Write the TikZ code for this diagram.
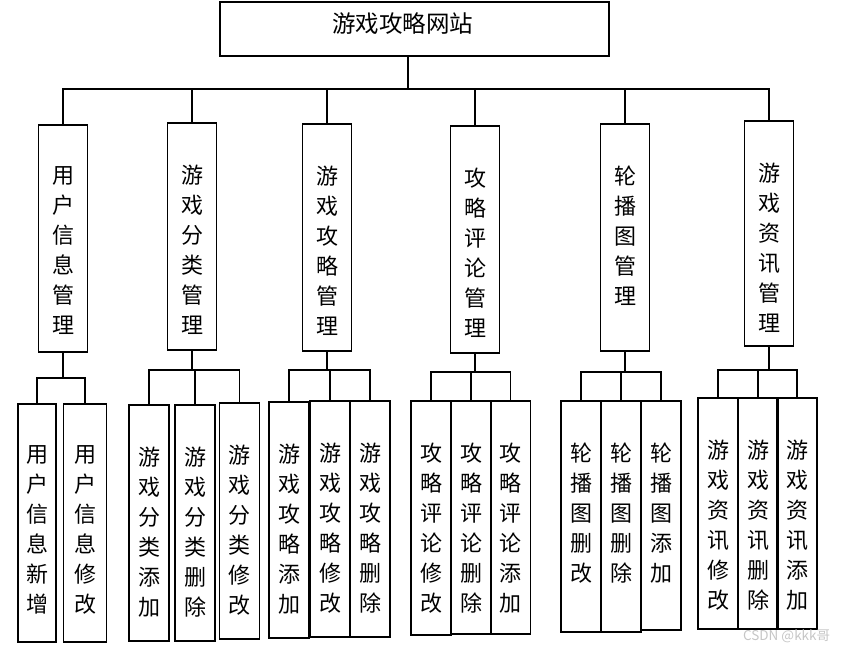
\documentclass[tikz,border=0pt]{standalone}
\usepackage{fontspec}
\newfontfamily\cjk{Noto Sans CJK SC}
\usetikzlibrary{positioning}

\begin{document}
\begin{tikzpicture}[
  x=1pt, y=-1pt,
  line width=1.8pt,
  root/.style={
    rectangle, draw, minimum width=389pt, minimum height=54pt,
    inner sep=0pt
  },
  rtext/.style={
    xshift=-12pt, yshift=5pt, inner sep=0pt,
    font=\cjk\fontsize{23.5}{23.5}\selectfont
  },
  mod/.style={
    rectangle, draw, anchor=north,
    minimum width=49pt, minimum height=227pt
  },
  sub/.style={
    rectangle, draw, anchor=north,
    minimum width=40pt, minimum height=236pt
  },
  vtext/.style={
    anchor=north, yshift=-42pt, inner sep=0pt, align=center,
    font=\cjk\fontsize{22}{30}\selectfont
  }
]
\useasboundingbox (0,0) rectangle (843,652);

\node[root, label={[rtext]center:游戏攻略网站}] (top) at (414.5,29) {};

% second level
\node[mod, label={[vtext]north:用\\户\\信\\息\\管\\理}] (m1) at (63,124) {};
\node[mod, label={[vtext]north:游\\戏\\分\\类\\管\\理}] (m2) at (192,122) {};
\node[mod, label={[vtext]north:游\\戏\\攻\\略\\管\\理}] (m3) at (327,123) {};
\node[mod, label={[vtext]north:攻\\略\\评\\论\\管\\理}] (m4) at (475,125) {};
\node[mod, label={[vtext]north:轮\\播\\图\\管\\理}] (m5) at (625,123) {};
\node[mod, minimum height=225pt, label={[vtext]north:游\\戏\\资\\讯\\管\\理}] (m6) at (769,120) {};

% third level
\node[sub, minimum width=38pt, minimum height=238pt, label={[vtext]north:用\\户\\信\\息\\新\\增}] (m1a) at (37,403) {};
\node[sub, minimum width=43pt, minimum height=238pt, label={[vtext]north:用\\户\\信\\息\\修\\改}] (m1b) at (85,403) {};

\node[sub, label={[vtext]north:游\\戏\\分\\类\\添\\加}] (m2a) at (149,404) {};
\node[sub, label={[vtext]north:游\\戏\\分\\类\\删\\除}] (m2b) at (195,404) {};
\node[sub, label={[vtext]north:游\\戏\\分\\类\\修\\改}] (m2c) at (239.5,402) {};

\node[sub, label={[vtext]north:游\\戏\\攻\\略\\添\\加}] (m3a) at (289,401) {};
\node[sub, label={[vtext]north:游\\戏\\攻\\略\\修\\改}] (m3b) at (330,400) {};
\node[sub, label={[vtext]north:游\\戏\\攻\\略\\删\\除}] (m3c) at (370,400) {};

\node[sub, minimum height=234pt, label={[vtext]north:攻\\略\\评\\论\\修\\改}] (m4a) at (431,400) {};
\node[sub, minimum height=233pt, label={[vtext]north:攻\\略\\评\\论\\删\\除}] (m4b) at (471,400) {};
\node[sub, minimum height=233pt, label={[vtext]north:攻\\略\\评\\论\\添\\加}] (m4c) at (510.5,400) {};

\node[sub, minimum height=231pt, label={[vtext]north:轮\\播\\图\\删\\改}] (m5a) at (581,400) {};
\node[sub, minimum height=231pt, label={[vtext]north:轮\\播\\图\\删\\除}] (m5b) at (621,400) {};
\node[sub, minimum height=229pt, label={[vtext]north:轮\\播\\图\\添\\加}] (m5c) at (661,400) {};

\node[sub, minimum height=231pt, label={[vtext]north:游\\戏\\资\\讯\\修\\改}] (m6a) at (718,397) {};
\node[sub, minimum height=231pt, label={[vtext]north:游\\戏\\资\\讯\\删\\除}] (m6b) at (758,397) {};
\node[sub, minimum height=231pt, label={[vtext]north:游\\戏\\资\\讯\\添\\加}] (m6c) at (797,397) {};

\node[anchor=east, inner sep=0pt, text=gray!45, font=\cjk\fontsize{13.5}{13.5}\selectfont] (mark) at (831,636) {CSDN @kkk哥};

% joints
\coordinate (hub) at (408,89);
\coordinate (j1) at (m1.south |- 0,378);
\coordinate (j2) at (m2.south |- 0,370);
\coordinate (j3) at (m3.south |- 0,370);
\coordinate (j4) at (m4.south |- 0,372);
\coordinate (j5) at (m5.south |- 0,372);
\coordinate (j6) at (m6.south |- 0,370);

\draw ([xshift=-6.5pt]top.south) -- (hub);
\foreach \i in {1,...,6}
  \draw (m\i.north) |- (hub);

\foreach \i in {1,...,6}
  \draw (m\i.south) -- (j\i);
\draw (m1a.north) |- (j1);
\draw (m1b.north) |- (j1);
\foreach \i in {2,...,6}
  \foreach \c in {a,b,c}
    \draw (m\i\c.north) |- (j\i);

\end{tikzpicture}
\end{document}
